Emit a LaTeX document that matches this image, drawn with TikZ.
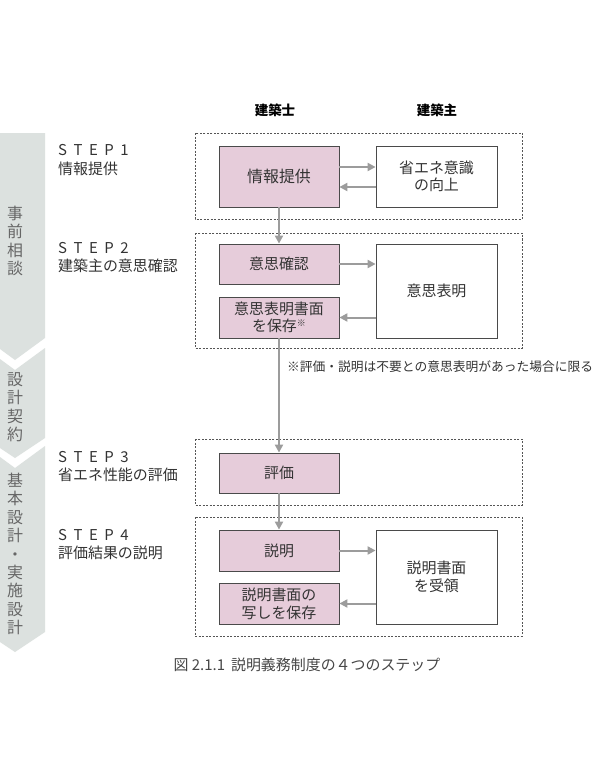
\documentclass[tikz,border=0pt]{standalone}
\usepackage{fontspec}
\setmainfont{Noto Sans CJK JP}
\usetikzlibrary{arrows.meta}
\definecolor{pinkfill}{HTML}{E6CCDA}
\definecolor{boxline}{HTML}{4A4A4A}
\definecolor{dashline}{HTML}{555555}
\definecolor{arrgray}{HTML}{9C9C9C}
\definecolor{txt}{HTML}{333333}
\definecolor{vtxt}{HTML}{666666}
\definecolor{barfill}{HTML}{DCE1DF}
\newcommand{\stp}[1]{S\kern6.5bp T\kern6.5bp E\kern6.5bp P\kern6.5bp #1}
\begin{document}
\begin{tikzpicture}[x=1bp,y=-1bp,
  pinkbox/.style={draw=boxline, fill=pinkfill, line width=0.8bp, minimum width=120bp,
    inner sep=0pt, align=center, font=\fontsize{15}{17}\selectfont, text=txt},
  whitebox/.style={draw=boxline, fill=white, line width=0.8bp, minimum width=121bp,
    inner sep=0pt, align=center, font=\fontsize{15}{17.5}\selectfont, text=txt},
  dbox/.style={draw=dashline, dash pattern=on 2bp off 1.5bp, line width=0.7bp},
  arr/.style={draw=arrgray, line width=2bp, -{Triangle[length=8bp,width=8bp]}},
  steplbl/.style={anchor=west, inner sep=0pt, font=\fontsize{15}{17}\selectfont, text=txt},
  vtext/.style={inner sep=0pt, align=center, font=\fontsize{16}{18.5}\selectfont, text=vtxt},
  header/.style={inner sep=0pt, font=\fontsize{13.5}{15}\selectfont\bfseries, text=black}]
\useasboundingbox (0,0) rectangle (596,772);
\fill[white] (0,0) rectangle (596,772);
% left phase bar
\begin{scope}
  \clip (0,0) rectangle (596,772);
  \fill[barfill] (-15,133) -- (45,133) -- (45,338) -- (15,360) -- (-15,338) -- cycle;
  \fill[barfill] (-15,348) -- (15,370) -- (45,348) -- (45,438) -- (15,458) -- (-15,438) -- cycle;
  \fill[barfill] (-15,446) -- (15,468) -- (45,446) -- (45,632) -- (15,652) -- (-15,632) -- cycle;
\end{scope}
\node[vtext] (v1) at (15,241) {事\\前\\相\\談};
\node[vtext] (v2) at (15,407) {設\\計\\契\\約};
\node[vtext] (v3) at (15,554) {基\\本\\設\\計\\・\\実\\施\\設\\計};
% step labels
\node[steplbl] (s1) at (58,150) {\stp{1}};
\node[steplbl] (s1t) at (58,169) {情報提供};
\node[steplbl] (s2) at (58,248) {\stp{2}};
\node[steplbl] (s2t) at (58,266) {建築主の意思確認};
\node[steplbl] (s3) at (58,457) {\stp{3}};
\node[steplbl] (s3t) at (58,475) {省エネ性能の評価};
\node[steplbl] (s4) at (58,535) {\stp{4}};
\node[steplbl] (s4t) at (58,553) {評価結果の説明};
% headers
\node[header] (h1) at (275,110) {建築士};
\node[header] (h2) at (437,110) {建築主};
% dashed groups
\draw[dbox] (195,133) rectangle (522,219);
\draw[dbox] (195,233) rectangle (522,348);
\draw[dbox] (195,439) rectangle (522,505);
\draw[dbox] (195,517) rectangle (522,636);
% boxes
\node[pinkbox, minimum height=61bp, font=\fontsize{16}{18}\selectfont] (p1) at (279,176.5) {情報提供};
\node[whitebox, minimum height=61bp] (w1) at (436.5,176.5) {省エネ意識\\の向上};
\node[pinkbox, minimum height=40bp] (p2) at (279,264) {意思確認};
\node[pinkbox, minimum height=41bp] (p3) at (279,317.5) {意思表明書面\\を保存\raisebox{0.35em}{\fontsize{9}{9}\selectfont ※}};
\node[whitebox, minimum height=94bp] (w2) at (436.5,291) {意思表明};
\node[pinkbox, minimum height=40bp] (p4) at (279,473) {評価};
\node[pinkbox, minimum height=41bp] (p5) at (279,550.5) {説明};
\node[pinkbox, minimum height=41bp, font=\fontsize{15}{18}\selectfont] (p6) at (279,603.5) {説明書面の\\写しを保存};
\node[whitebox, minimum height=94bp, font=\fontsize{15}{18.3}\selectfont] (w3) at (436.5,577) {説明書面\\を受領};
% arrows
\draw[arr] (p1.east |- 0,167) -- (w1.west |- 0,167);
\draw[arr] (w1.west |- 0,187) -- (p1.east |- 0,187);
\draw[arr] (p2.east) -- (w2.west |- p2.east);
\draw[arr] (w2.west |- p3.east) -- (p3.east);
\draw[arr] (p5.east) -- (w3.west |- p5.east);
\draw[arr] (w3.west |- p6.east) -- (p6.east);
\draw[arr] (p1.south) -- (p2.north);
\draw[arr] (p3.south) -- (p4.north);
\draw[arr] (p4.south) -- (p5.north);
% note
\node[anchor=west, inner sep=0pt, font=\fontsize{12.8}{14}\selectfont, text=txt] (note) at (287,367) {※評価・説明は不要との意思表明があった場合に限る};
% caption
\node[inner sep=0pt, font=\fontsize{15}{17}\selectfont, text=txt!90!white] (cap) at (307,665) {図 2.1.1\hspace{0.4em}説明義務制度の４つのステップ};
\end{tikzpicture}
\end{document}
